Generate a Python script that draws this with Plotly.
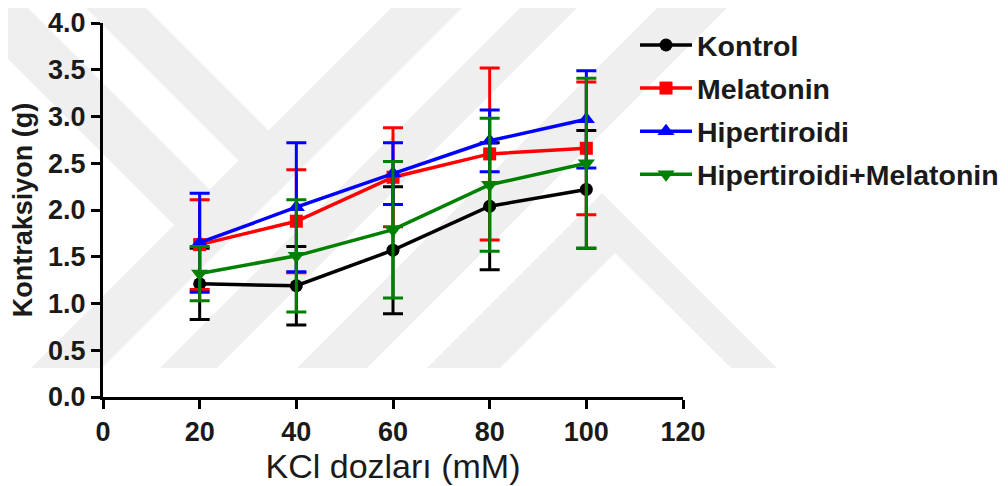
import plotly.graph_objects as go

# ---- data ----
doses = [20, 40, 60, 80, 100]
kontrol = [1.21, 1.19, 1.57, 2.04, 2.22]
kontrol_err = [0.38, 0.42, 0.68, 0.68, 0.63]
melatonin = [1.63, 1.88, 2.35, 2.60, 2.66]
melatonin_err = [0.48, 0.55, 0.53, 0.92, 0.71]
hiper = [1.65, 2.03, 2.39, 2.74, 2.97]
hiper_err = [0.53, 0.69, 0.33, 0.33, 0.52]
hiper_mel = [1.32, 1.51, 1.79, 2.27, 2.50]
hiper_mel_err = [0.29, 0.60, 0.73, 0.71, 0.91]

series = [
    ("Kontrol", kontrol, kontrol_err, "#000000", "circle", 13),
    ("Melatonin", melatonin, melatonin_err, "#ff0000", "square", 13),
    ("Hipertiroidi", hiper, hiper_err, "#0000ff", "triangle-up", 15),
    ("Hipertiroidi+Melatonin", hiper_mel, hiper_mel_err, "#008000", "triangle-down", 15),
]

fig = go.Figure()
for i, (name, y, e, col, sym, sz) in enumerate(series):
    fig.add_trace(go.Scatter(
        x=doses, y=y, name=name, mode="lines+markers",
        line=dict(color=col, width=3.5),
        marker=dict(color=col, symbol=sym, size=sz, line=dict(color=col, width=0)),
        error_y=dict(type="data", array=e, visible=True, color=col,
                     thickness=3, width=10),
        legendgroup=f"g{i}",
    ))

W, H = 1008, 486
# page body adds an 8px offset; plot area lands at x 103-683, y 23-397
L, T = 95, 15
PW, PH = 580, 374
R = W - L - PW
B = H - T - PH
X0, Y0 = 103, 397  # page pixel of plot-area origin


def pth(points):
    s = []
    for k, (px, py) in enumerate(points):
        xp = (px - X0) / PW
        yp = (Y0 - py) / PH
        s.append(("M" if k == 0 else "L") + f"{xp:.4f},{yp:.4f}")
    return " ".join(s) + " Z"


# faint background watermark (decorative bands)
wm = [
    [(31, 368), (102, 368), (470, 0), (399, 0)],
    [(174, 225), (245, 225), (20, 0), (-51, 0)],
    [(78, 0), (138, 0), (304, 166), (274, 196)],
    [(160, 368), (217, 368), (585, 0), (528, 0)],
    [(297, 368), (367, 368), (735, 0), (665, 0)],
    [(427, 368), (500, 368), (615, 253), (731, 368), (777, 368), (602, 193)],
]
shapes = [dict(type="path", xref="paper", yref="paper", path=pth(p),
               fillcolor="#efefef", line=dict(width=0), layer="below") for p in wm]

fig.update_layout(
    width=W, height=H,
    margin=dict(l=L, r=R, t=T, b=B, pad=0, autoexpand=False),
    plot_bgcolor="rgba(0,0,0,0)",
    paper_bgcolor="white",
    shapes=shapes,
    font=dict(family="Liberation Sans, Arial, sans-serif", color="black"),
    showlegend=True,
    legend=dict(
        x=(635 - X0) / PW, y=(Y0 - 20) / PH, xanchor="left", yanchor="top",
        font=dict(size=28.5, family="Liberation Sans, Arial, sans-serif", color="#1a1a1a", weight="bold"),
        bgcolor="rgba(0,0,0,0)", tracegroupgap=3, itemwidth=52,
    ),
    xaxis=dict(
        range=[0, 120], tickvals=[0, 20, 40, 60, 80, 100, 120],
        showline=True, linecolor="black", linewidth=3,
        ticks="outside", ticklen=9, tickwidth=3, tickcolor="black",
        showgrid=False, zeroline=False,
        tickfont=dict(size=27, weight="bold", color="#1a1a1a"),
        title=dict(text="KCl dozları (mM)", font=dict(size=34, color="#1a1a1a"), standoff=6),
    ),
    yaxis=dict(
        range=[0, 4], tickvals=[0, 0.5, 1, 1.5, 2, 2.5, 3, 3.5, 4],
        ticktext=["0.0", "0.5", "1.0", "1.5", "2.0", "2.5", "3.0", "3.5", "4.0"],
        showline=True, linecolor="black", linewidth=3,
        ticks="outside", ticklen=9, tickwidth=3, tickcolor="black",
        showgrid=False, zeroline=False,
        tickfont=dict(size=27, weight="bold", color="#1a1a1a"),
        title=dict(text="Kontraksiyon (g)", font=dict(size=27, weight="bold", color="#1a1a1a"), standoff=8),
    ),
)

fig.write_html("out.html")
